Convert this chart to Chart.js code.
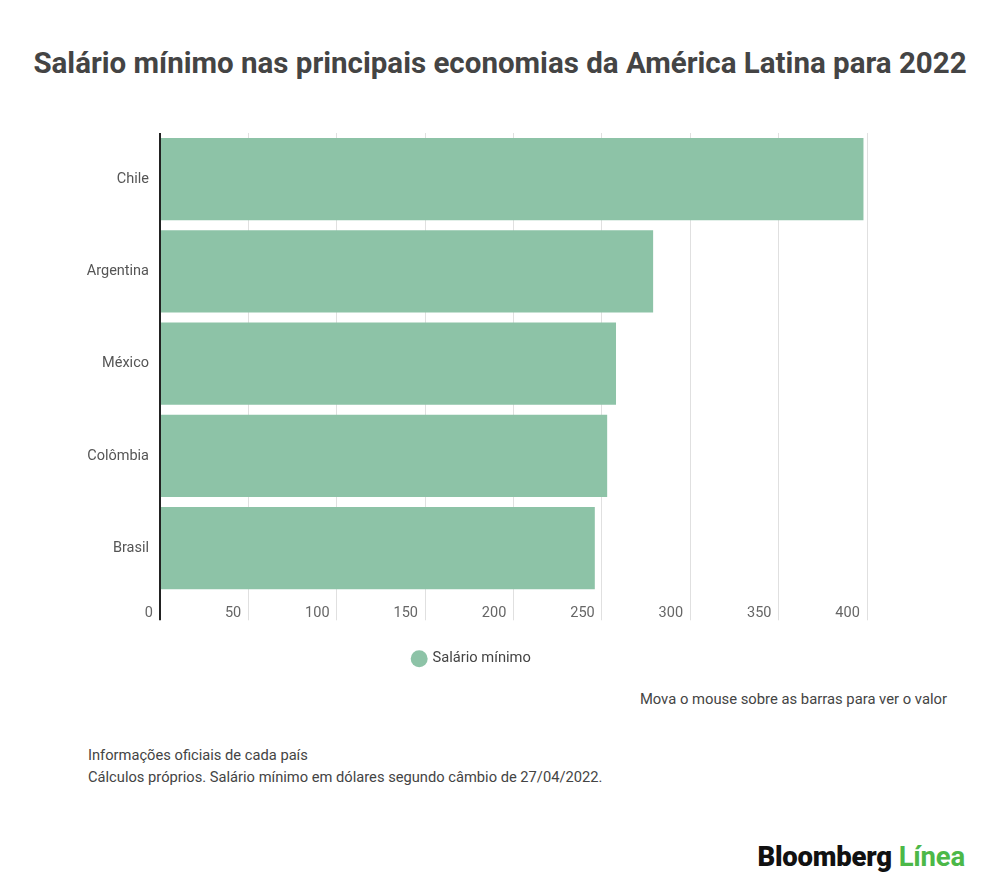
<!DOCTYPE html>
<html>
<head>
<meta charset="utf-8">
<script src="https://cdn.jsdelivr.net/npm/chart.js@4"></script>
<style>
  body { margin: 0; background: #fff; font-family: Roboto, sans-serif; }
  #page { position: relative; width: 1000px; height: 892px; overflow: hidden; }
  #title { position: absolute; left: 0; width: 1000px; top: 46px; text-align: center;
           font-size: 29.5px; font-weight: bold; color: #444; }
  #wrap { position: absolute; left: 77px; top: 100px; width: 923px; height: 581px; }
  #hint { position: absolute; right: 53px; top: 690px; font-size: 14.8px; color: #444; }
  .note { position: absolute; left: 88px; font-size: 14.7px; color: #444; }
  #logo { position: absolute; right: 35px; top: 840px; font-size: 27.5px; font-weight: 900;
          color: #111; letter-spacing: -0.2px; }
  #logo span { color: #4cb848; font-weight: bold; }
</style>
</head>
<body>
<div id="page">
  <div id="title">Salário mínimo nas principais economias da América Latina para 2022</div>
  <div id="wrap"><canvas id="chart"></canvas></div>
  <div id="hint">Mova o mouse sobre as barras para ver o valor</div>
  <div class="note" style="top:746px">Informações oficiais de cada país</div>
  <div class="note" style="top:768px">Cálculos próprios. Salário mínimo em dólares segundo câmbio de 27/04/2022.</div>
  <div id="logo">Bloomberg <span>Línea</span></div>
</div>
<script>
const countries = ['Chile', 'Argentina', 'México', 'Colômbia', 'Brasil'];
const minWage = [398, 279, 258, 253, 246];
const xTicks = [0, 50, 100, 150, 200, 250, 300, 350, 400];

document.addEventListener('DOMContentLoaded', function() {
    new Chart(document.getElementById('chart'), {
        type: 'bar',
        data: {
            labels: countries,
            datasets: [{
                label: 'Salário mínimo',
                data: minWage,
                backgroundColor: '#8dc3a7',
                borderWidth: 0,
                categoryPercentage: 1,
                barPercentage: 0.89
            }]
        },
        options: {
            indexAxis: 'y',
            responsive: true,
            maintainAspectRatio: false,
            animation: false,
            layout: { padding: { top: 33, right: 133, bottom: 5, left: 0 } },
            plugins: {
                legend: {
                    position: 'bottom',
                    labels: {
                        usePointStyle: true,
                        pointStyle: 'circle',
                        boxWidth: 12,
                        boxHeight: 12,
                        color: '#444',
                        font: { family: 'Roboto', size: 14.7 }
                    }
                },
                tooltip: { enabled: true }
            },
            scales: {
                x: {
                    min: 0,
                    max: 400,
                    afterBuildTicks: function(scale) {
                        scale.ticks = xTicks.map(v => ({ value: v }));
                    },
                    afterFit: function(scale) { scale.height = 47; },
                    border: { display: false },
                    grid: {
                        color: ctx => ctx.tick && ctx.tick.value === 0 ? '#222' : '#e0e0e0',
                        lineWidth: ctx => ctx.tick && ctx.tick.value === 0 ? 2 : 1,
                        tickLength: 26
                    },
                    ticks: {
                        align: 'end',
                        padding: -16,
                        autoSkip: false,
                        maxRotation: 0,
                        color: '#666',
                        font: { family: 'Roboto', size: 14.5 },
                        callback: v => v + '  '
                    }
                },
                y: {
                    afterFit: function(scale) { scale.width = 83; },
                    border: { display: false },
                    grid: { display: false, drawTicks: false },
                    ticks: {
                        padding: 11,
                        color: '#555',
                        font: { family: 'Roboto', size: 14.5 }
                    }
                }
            }
        }
    });
});
</script>
</body>
</html>
